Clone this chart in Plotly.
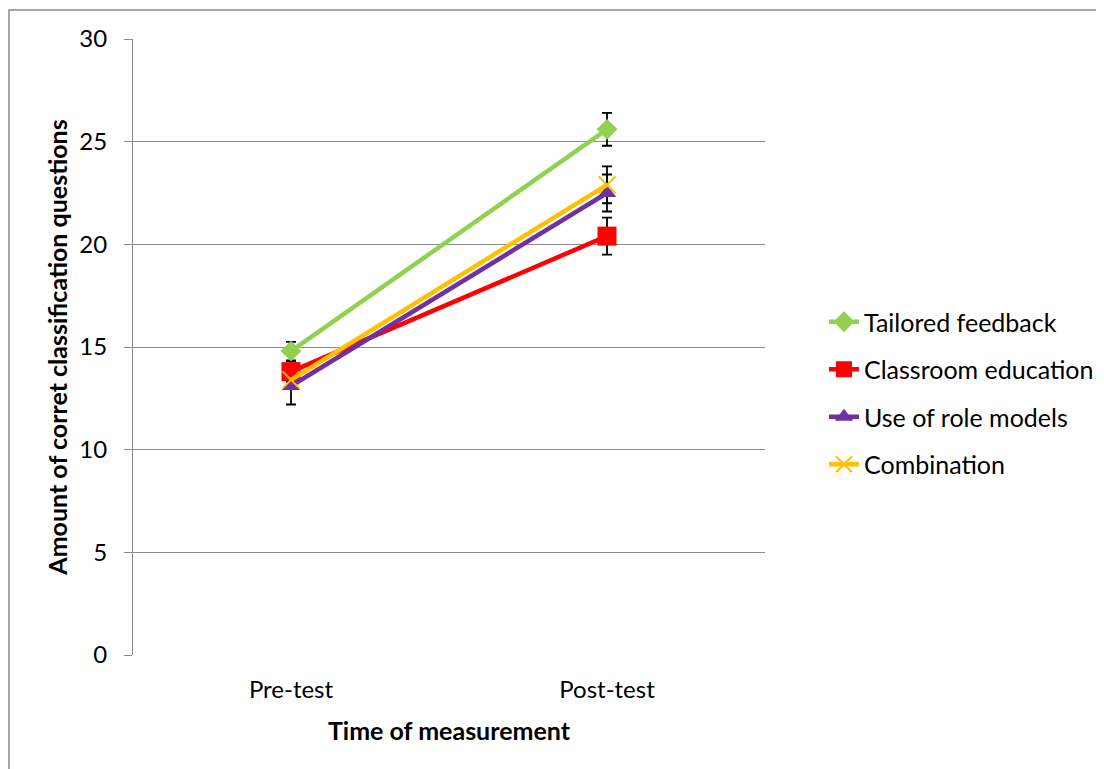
import plotly.graph_objects as go

categories = ["Pre-test", "Post-test"]
series_names = ["Tailored feedback", "Classroom education", "Use of role models", "Combination"]
tailored = [14.8, 25.6]
tailored_err = [0.45, 0.8]
classroom = [13.8, 20.4]
classroom_err = [0.5, 0.9]
role_models = [13.1, 22.5]
role_models_err = [0.9, 0.9]
combination = [13.4, 22.9]
combination_err = [0.4, 0.9]
y_ticks = [0, 5, 10, 15, 20, 25, 30]

values = [tailored, classroom, role_models, combination]
errors = [tailored_err, classroom_err, role_models_err, combination_err]
colors = ["#92D050", "#FF0000", "#7030A0", "#FFC000"]
symbols = ["diamond", "square", "triangle-up", "x-thin"]
sizes = [16, 19, 16, 17]

FONT = "Lato, Calibri, sans-serif"

# page has an 8px body margin; figure coordinates below are page - 8
L, T, PW, PH = 125, 31, 632, 616
W, H = 1104, 769

fig = go.Figure()

# error bars drawn first (below lines and markers)
for vals, errs in zip(values, errors):
    fig.add_trace(go.Scatter(
        x=categories, y=vals, mode="markers",
        marker=dict(size=1, opacity=0),
        error_y=dict(type="data", array=errs, visible=True, color="black", thickness=1.8, width=5),
        showlegend=False, hoverinfo="skip",
    ))

for i, (name, vals) in enumerate(zip(series_names, values)):
    mk = dict(symbol=symbols[i], size=sizes[i], color=colors[i])
    if symbols[i] == "x-thin":
        mk["line"] = dict(color=colors[i], width=2)
    fig.add_trace(go.Scatter(
        x=categories, y=vals, mode="lines+markers", name=name,
        line=dict(color=colors[i], width=4.5),
        marker=mk, legendgroup=name,
    ))

# outer chart border
fig.add_shape(type="rect", xref="paper", yref="paper",
              x0=(1 - L) / PW, x1=(W + 20 - L) / PW,
              y0=(T + PH - (H + 20)) / PH, y1=(T + PH - 2) / PH,
              line=dict(color="#8C8C8C", width=1.5), fillcolor="rgba(0,0,0,0)", layer="below")

fig.update_layout(
    width=W, height=H,
    margin=dict(l=L, r=W - L - PW, t=T, b=H - T - PH),
    paper_bgcolor="white", plot_bgcolor="white",
    font=dict(family=FONT, size=25, color="black"),
    xaxis=dict(
        type="category", range=[-0.5, 1.5],
        showgrid=False, zeroline=False, showline=False,
        ticks="", tickfont=dict(size=24), ticklabelstandoff=18,
        title=dict(text="<b>Time of measurement</b>", font=dict(size=25), standoff=20),
    ),
    yaxis=dict(
        range=[0, 30], tickvals=y_ticks,
        showgrid=True, gridcolor="#8C8C8C", gridwidth=1,
        zeroline=False, showline=True, linecolor="#8C8C8C", linewidth=1,
        ticks="outside", ticklen=8, tickcolor="#8C8C8C",
        tickfont=dict(size=24), ticklabelstandoff=12,
        title=dict(text="<b>Amount of corret classification questions</b>", font=dict(size=25), standoff=4),
    ),
    legend=dict(
        x=(816 - L) / PW, xanchor="left",
        y=(T + PH - 385) / PH, yanchor="middle",
        font=dict(size=25), tracegroupgap=12,
        bgcolor="rgba(0,0,0,0)",
    ),
)

fig.write_html("out.html")
